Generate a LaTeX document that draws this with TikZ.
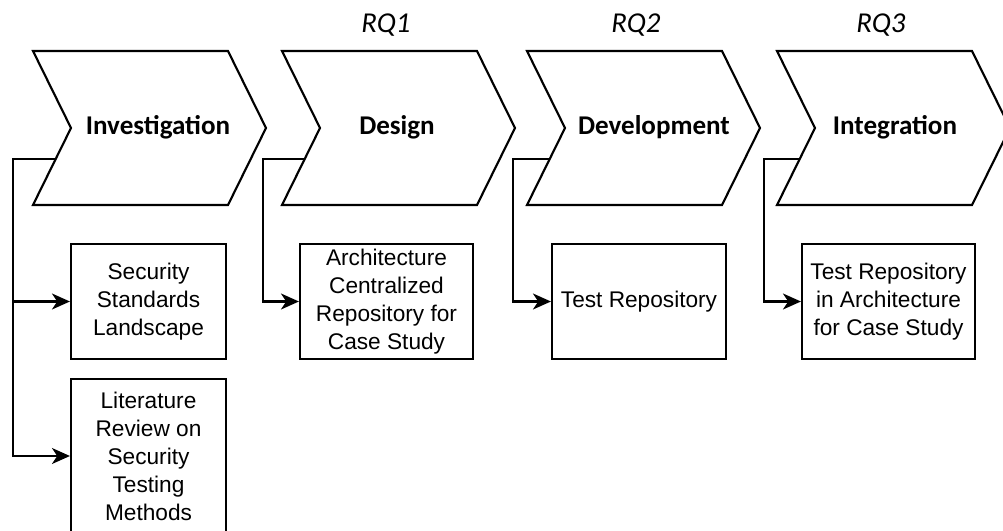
\documentclass[tikz,border=0pt]{standalone}
\usepackage{fontspec}
\setmainfont{Carlito}
\newfontfamily\boxfont{Liberation Sans}
\usetikzlibrary{arrows.meta}

\begin{document}
\begin{tikzpicture}[x=0.75pt,y=-0.75pt,
  line width=1.6pt,
  chevron/.style={draw=black, line join=miter},
  phase/.style={font=\bfseries\fontsize{20.3pt}{24pt}\selectfont, anchor=base, inner sep=0pt},
  rq/.style={font=\itshape\fontsize{21.6pt}{26pt}\selectfont, anchor=base, inner sep=0pt},
  task/.style={draw=black, rectangle, align=center, inner sep=0pt,
    font=\boxfont\fontsize{17pt}{21pt}\selectfont},
  conn/.style={draw=black, -{Stealth[length=13.5pt,width=12pt,inset=4pt]}}
]
\useasboundingbox (0,0) rectangle (1003,531);

% process chevrons: left edge, body width 195, point depth 38
\foreach \L in {33,282,527,777}{
  \draw[chevron] (\L,51) -- ++(195,0) -- ++(38,77) -- ++(-38,77) -- ++(-195,0)
    -- ++(38,-77) -- cycle;
}

% phase titles
\node[phase] (p1) at (158,135) {Investigation};
\node[phase] (p2) at (397,135) {Design};
\node[phase] (p3) at (654,135) {Development};
\node[phase] (p4) at (895,135) {Integration};

% research questions
\node[rq] (q1) at (386,33) {RQ1};
\node[rq] (q2) at (636,33) {RQ2};
\node[rq] (q3) at (881,33) {RQ3};

% outcome boxes
\node[task, minimum width=116.25pt, minimum height=86.25pt] (b1) at (148.5,301.5)
  {Security\\Standards\\Landscape};
\node[task, minimum width=116.25pt, minimum height=115.5pt] (b2) at (148.5,456)
  {Literature\\Review on\\Security\\Testing\\Methods};
\node[task, minimum width=129.75pt, minimum height=86.25pt] (b3) at (386.5,301.5)
  {Architecture\\Centralized\\Repository for\\Case Study};
\node[task, minimum width=130.5pt, minimum height=86.25pt] (b4) at (639,301.5)
  {Test Repository};
\node[task, minimum width=129.75pt, minimum height=86.25pt] (b5) at (888.5,301.5)
  {Test Repository\\in Architecture\\for Case Study};

% branch points on the lower-left edge of each chevron
\coordinate (j1) at (55.7,159);  \coordinate (s1) at (13,159);
\coordinate (j2) at (304.7,159); \coordinate (s2) at (263,159);
\coordinate (j3) at (549.7,159); \coordinate (s3) at (513,159);
\coordinate (j4) at (799.7,159); \coordinate (s4) at (764,159);

% connectors
\draw[conn] (j1) -- (s1) |- (b2.west);
\draw[conn] (s1) |- (b1.west);
\draw[conn] (j2) -- (s2) |- (b3.west);
\draw[conn] (j3) -- (s3) |- (b4.west);
\draw[conn] (j4) -- (s4) |- (b5.west);
\end{tikzpicture}
\end{document}
